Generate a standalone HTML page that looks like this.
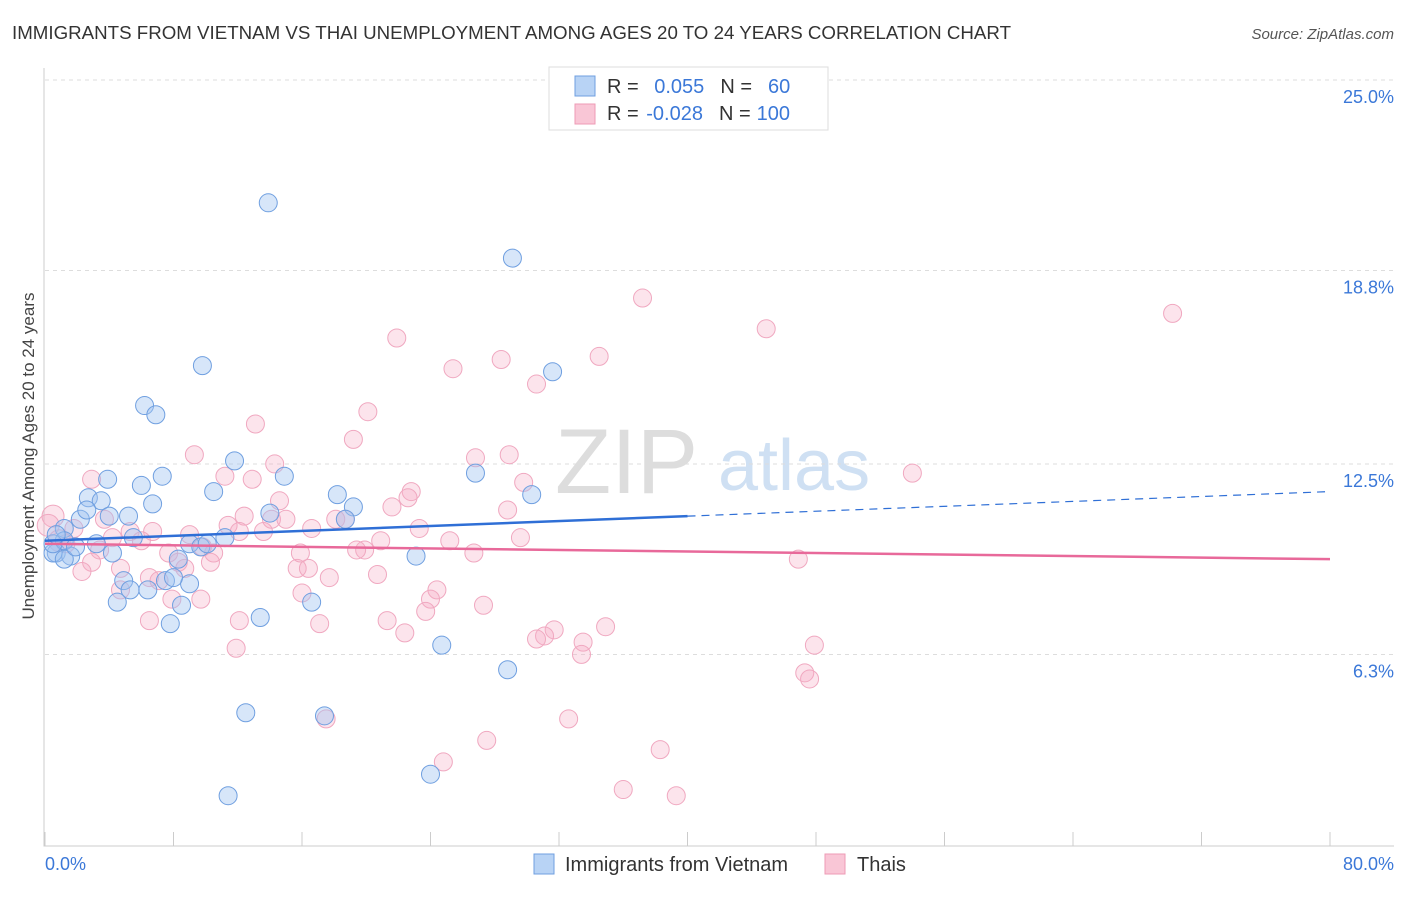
<!DOCTYPE html>
<html><head><meta charset="utf-8"><style>
body{margin:0;background:#fff;font-family:"Liberation Sans",sans-serif;}
svg text{font-family:"Liberation Sans",sans-serif;}
</style></head><body>
<svg id="chart" width="1406" height="892">
<text x="12" y="39" font-size="18" fill="#333" textLength="999" lengthAdjust="spacingAndGlyphs">IMMIGRANTS FROM VIETNAM VS THAI UNEMPLOYMENT AMONG AGES 20 TO 24 YEARS CORRELATION CHART</text>
<text x="1394" y="39" font-size="15" fill="#555" text-anchor="end" font-style="italic">Source: ZipAtlas.com</text>
<text transform="translate(34,456) rotate(-90)" font-size="17" fill="#444" text-anchor="middle">Unemployment Among Ages 20 to 24 years</text>
<g><text x="555" y="493" font-size="92" fill="#ddd" font-family="Liberation Serif">ZIP</text><text x="718" y="490" font-size="72" fill="#cfe0f3">atlas</text></g>
<g id="grid"></g><g id="axes"></g><g id="pts"></g><g id="trends"></g>
<g>
<rect x="549" y="67" width="279" height="63" fill="#fff" stroke="#ddd"/>
<rect x="575" y="76" width="20" height="20" fill="#b8d3f5" stroke="#6f9fe0"/>
<rect x="575" y="104" width="20" height="20" fill="#f9c6d6" stroke="#ee9bb5"/>
<text x="607" y="93" font-size="20" fill="#333">R = <tspan fill="#3b78d8" dx="10">0.055</tspan><tspan dx="16" fill="#333">N =</tspan><tspan fill="#3b78d8" dx="16">60</tspan></text>
<text x="607" y="120" font-size="20" fill="#333">R = <tspan fill="#3b78d8" dx="2">-0.028</tspan><tspan dx="16" fill="#333">N =</tspan><tspan fill="#3b78d8" dx="6">100</tspan></text>
</g>
<g>
<rect x="534" y="854" width="20" height="20" fill="#b8d3f5" stroke="#6f9fe0"/>
<text x="565" y="871" font-size="20" fill="#333">Immigrants from Vietnam</text>
<rect x="825" y="854" width="20" height="20" fill="#f9c6d6" stroke="#ee9bb5"/>
<text x="857" y="871" font-size="20" fill="#333">Thais</text>
</g>
</svg>
<script>
const yTicks=[6.3,12.5,18.8,25.0];
const xTickLabels=["0.0%","80.0%"];
const blueX=[13.9,29.1,9.8,31.6,6.2,6.9,11.8,7.3,14.9,26.8,3.9,10.5,2.7,18.2,30.3,3.5,6.0,19.2,6.7,5.2,2.2,18.7,4.0,14.0,2.6,1.2,11.2,5.5,3.2,9.0,9.7,10.1,8.3,4.2,0.7,1.6,0.5,1.2,4.9,7.5,5.3,9.0,6.4,8.0,4.5,8.5,16.6,7.8,13.4,24.7,28.8,12.5,17.4,24.0,11.4,23.1,1.2,0.5,1.9,0.7];
const blueY=[21.1,19.3,15.8,15.6,14.5,14.2,12.7,12.2,12.2,12.3,12.1,11.7,11.5,11.6,11.6,11.4,11.9,11.2,11.3,10.9,10.8,10.8,10.9,11.0,11.1,10.5,10.2,10.2,10.0,10.0,9.9,10.0,9.5,9.7,9.7,9.6,9.7,9.5,8.8,8.8,8.5,8.7,8.5,8.9,8.1,8.0,8.1,7.4,7.6,6.7,5.9,4.5,4.4,2.5,1.8,9.6,10.1,10.0,9.9,10.3];
const pinkX=[37.2,70.2,44.9,21.9,34.5,28.4,25.4,30.6,20.1,13.1,19.2,9.3,26.8,28.9,14.3,12.9,54.0,2.9,11.2,22.8,14.6,29.8,21.6,22.6,12.4,14.1,28.8,18.1,18.7,3.7,15.0,16.6,23.3,11.4,13.6,1.8,6.7,5.3,4.2,20.9,29.6,6.0,9.8,7.7,19.9,26.7,10.5,8.3,10.3,19.4,3.4,2.9,4.7,15.7,16.4,2.3,8.7,20.7,17.7,6.5,7.1,46.9,16.0,24.4,24.0,7.9,27.3,23.7,21.3,12.1,17.1,34.9,22.4,31.7,31.1,30.6,33.5,47.9,11.9,33.4,47.3,47.6,17.5,32.6,27.5,38.3,24.8,36.0,39.3,0.5,0.2,0.9,9.0,12.1,15.9,1.3,25.2,4.7,9.7,6.5];
const pinkY=[18.0,17.5,17.0,16.7,16.1,16.0,15.7,15.2,14.3,13.9,13.4,12.9,12.8,12.9,12.6,12.1,12.3,12.1,12.2,11.7,11.4,12.0,11.2,11.5,10.9,10.8,11.1,10.8,10.8,10.8,10.8,10.5,10.5,10.6,10.4,10.5,10.4,10.4,10.2,10.1,10.2,10.1,9.9,9.7,9.8,9.7,9.7,9.4,9.4,9.8,9.8,9.4,9.2,9.2,9.2,9.1,9.2,9.0,8.9,8.9,8.8,9.5,8.4,8.5,8.2,8.2,8.0,7.8,7.5,7.5,7.4,7.3,7.1,7.2,7.0,6.9,6.8,6.7,6.6,6.4,5.8,5.6,4.3,4.3,3.6,3.3,2.9,2.0,1.8,10.9,10.6,10.1,10.3,10.4,9.7,10.0,10.1,8.5,8.2,7.5];
const blueTrend=[10.1,10.9,11.7];
const pinkTrend=[10.0,9.5];
const NS="http://www.w3.org/2000/svg";
const X=v=>45+v*1285/80, Y=v=>83+(25-v)*30.72;
function mk(tag,attrs,parent){const e=document.createElementNS(NS,tag);for(const k in attrs)e.setAttribute(k,attrs[k]);parent.appendChild(e);return e;}
const grid=document.getElementById('grid'),axes=document.getElementById('axes'),pts=document.getElementById('pts'),tr=document.getElementById('trends');
yTicks.forEach(t=>{
 const l=mk('line',{x1:45,x2:1394,y1:Y(t)-3,y2:Y(t)-3,stroke:'#ddd','stroke-dasharray':'4,4'},grid);
 
 
 const tx=mk('text',{x:1394,y:Y(t)+20,'font-size':18,fill:'#3b78d8','text-anchor':'end'},grid);tx.textContent=t.toFixed(1)+'%';
 
 
});
const ax=mk('path',{d:'M44,68V846H1394',stroke:'#ccc',fill:'none'},axes);


for(let i=0;i<=10;i++){const t=mk('line',{x1:X(i*8),x2:X(i*8),y1:832,y2:846,stroke:'#ccc'},axes);
 
 }
[[0,'start',45],[80,'end',1394]].forEach((d,i)=>{const t=mk('text',{x:d[2],y:870,'font-size':18,fill:'#3b78d8','text-anchor':d[1]},axes);t.textContent=xTickLabels[i];
 
 });
pinkX.forEach((x,i)=>{const c=mk('circle',{cx:X(x),cy:Y(pinkY[i]),r:(i>=89&&i<=91)?11:9,fill:'rgba(246,170,195,0.32)',stroke:'#f0a8c0','stroke-width':1},pts);
 
 });
blueX.forEach((x,i)=>{const c=mk('circle',{cx:X(x),cy:Y(blueY[i]),r:9,fill:'rgba(160,195,240,0.42)',stroke:'#6f9fe0','stroke-width':1},pts);
 
 });
const b1=mk('line',{x1:X(0),y1:Y(blueTrend[0]),x2:X(40),y2:Y(blueTrend[1]),stroke:'#2f6fd6','stroke-width':2.5},tr);


const b2=mk('line',{x1:X(40),y1:Y(blueTrend[1]),x2:X(80),y2:Y(blueTrend[2]),stroke:'#2f6fd6','stroke-width':1.2,'stroke-dasharray':'8,6'},tr);


const p1=mk('line',{x1:X(0),y1:Y(pinkTrend[0]),x2:X(80),y2:Y(pinkTrend[1]),stroke:'#e8699a','stroke-width':2.5},tr);


</script>
</body></html>
